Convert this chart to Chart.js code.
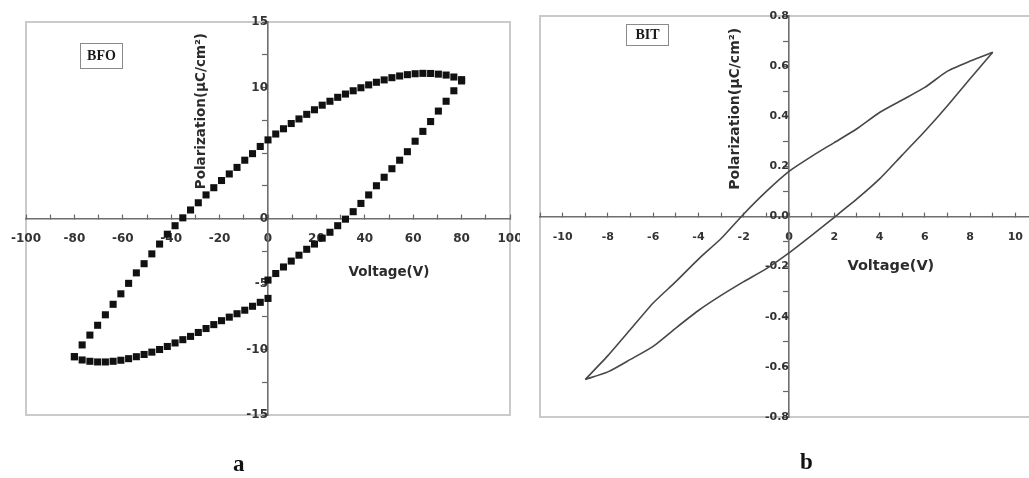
<!DOCTYPE html>
<html><head><meta charset="utf-8">
<script src="https://cdn.jsdelivr.net/npm/chart.js@4.4.1/dist/chart.umd.min.js"></script>
<style>
html,body{margin:0;padding:0;background:#fff;width:1029px;height:478px;overflow:hidden;position:relative}
canvas{position:absolute;top:0}
#cA{left:0}
#cB{left:520px}
.lab{position:absolute;font-family:"Liberation Serif","Times New Roman",serif;font-weight:bold;font-size:23px;color:#111;line-height:1}
</style></head><body>
<canvas id="cA" width="520" height="478"></canvas>
<canvas id="cB" width="525" height="478"></canvas>
<div class="lab" style="left:233px;top:452px">a</div>
<div class="lab" style="left:800px;top:450px">b</div>
<script>
// ---------- Panel a : BFO ----------
const bfoVoltageForward = [-80, -76.8, -73.6, -70.4, -67.2, -64, -60.8, -57.6, -54.4, -51.2, -48, -44.8, -41.6, -38.4, -35.2, -32, -28.8, -25.6, -22.4, -19.2, -16, -12.8, -9.6, -6.4, -3.2, 0, 3.2, 6.4, 9.6, 12.8, 16, 19.2, 22.4, 25.6, 28.8, 32, 35.2, 38.4, 41.6, 44.8, 48, 51.2, 54.4, 57.6, 60.8, 64, 67.2, 70.4, 73.6, 76.8, 80];
const bfoPolForward = [-10.55, -9.65, -8.9, -8.15, -7.35, -6.55, -5.75, -4.95, -4.15, -3.45, -2.7, -1.95, -1.2, -0.55, 0.05, 0.65, 1.2, 1.8, 2.35, 2.9, 3.4, 3.9, 4.45, 4.95, 5.5, 6.0, 6.45, 6.85, 7.25, 7.6, 7.95, 8.3, 8.65, 8.95, 9.25, 9.5, 9.75, 9.98, 10.2, 10.4, 10.58, 10.75, 10.88, 10.98, 11.05, 11.08, 11.07, 11.02, 10.95, 10.8, 10.6];
const bfoVoltageReturnA = [80, 76.8, 73.6, 70.4, 67.2, 64, 60.8, 57.6, 54.4, 51.2, 48, 44.8, 41.6, 38.4, 35.2, 32, 28.8, 25.6, 22.4, 19.2, 16, 12.8, 9.6, 6.4, 3.2, 0];
const bfoPolReturnA = [10.5, 9.75, 8.95, 8.2, 7.4, 6.65, 5.9, 5.1, 4.45, 3.8, 3.15, 2.5, 1.8, 1.15, 0.52, -0.05, -0.55, -1.05, -1.5, -1.95, -2.35, -2.8, -3.25, -3.7, -4.2, -4.7];
const bfoVoltageReturnB = [0, -3.2, -6.4, -9.6, -12.8, -16, -19.2, -22.4, -25.6, -28.8, -32, -35.2, -38.4, -41.6, -44.8, -48, -51.2, -54.4, -57.6, -60.8, -64, -67.2, -70.4, -73.6, -76.8, -80];
const bfoPolReturnB = [-6.1, -6.4, -6.7, -7.0, -7.27, -7.53, -7.8, -8.1, -8.4, -8.7, -9.0, -9.25, -9.5, -9.77, -10.0, -10.2, -10.38, -10.55, -10.7, -10.82, -10.9, -10.95, -10.95, -10.9, -10.8, -10.55];

// ---------- Panel b : BIT ----------
const bitVoltageUp = [-9, -8, -7, -6, -5, -4, -3, -2, -1, 0, 1, 2, 3, 4, 5, 6, 7, 8, 9];
const bitPolUp = [-0.65, -0.555, -0.45, -0.345, -0.26, -0.17, -0.088, 0.01, 0.1, 0.18, 0.24, 0.295, 0.35, 0.415, 0.465, 0.515, 0.58, 0.62, 0.655];
const bitVoltageDown = [9, 8, 7, 6, 5, 4, 3, 2, 1, 0, -1, -2, -3, -4, -5, -6, -7, -8, -9];
const bitPolDown = [0.655, 0.55, 0.442, 0.34, 0.245, 0.15, 0.07, -0.003, -0.075, -0.145, -0.208, -0.26, -0.315, -0.375, -0.445, -0.518, -0.57, -0.62, -0.65];

const xTicksA = {min: -100, max: 100, step: 10, labelEvery: 20};
const yTicksA = {min: -15, max: 15, step: 2.5, labelEvery: 5, hidden: [5]};
const xTicksB = {min: -11, max: 11, step: 1, labelEvery: 2};
const yTicksB = {min: -0.8, max: 0.8, step: 0.1, labelEvery: 0.2};

const pts = (xs, ys) => xs.map((x, i) => ({x, y: ys[i]}));

const framePlugin = {
  id: 'frame',
  beforeDraw(chart, args, o) {
    const {ctx, chartArea: a} = chart;
    ctx.save();
    ctx.strokeStyle = '#cacaca';
    ctx.lineWidth = 2;
    ctx.strokeRect(a.left, a.top, a.right - a.left, a.bottom - a.top);
    ctx.restore();
  },
  afterDraw(chart, args, o) {
    const {ctx, chartArea: a} = chart;
    const sx = chart.scales.x, sy = chart.scales.y;
    ctx.save();
    ctx.fillStyle = '#2b2b2b';
    ctx.textAlign = 'center';
    ctx.textBaseline = 'middle';
    // y title
    ctx.save();
    ctx.font = 'bold ' + o.yTitleSize + 'px "DejaVu Sans"';
    ctx.translate(sx.getPixelForValue(0) + o.yTitleDx, sy.getPixelForValue(o.yTitleAt));
    ctx.rotate(-Math.PI / 2);
    ctx.fillText(o.yTitle, 0, 0);
    ctx.restore();
    // x title
    ctx.font = 'bold ' + o.xTitleSize + 'px "DejaVu Sans"';
    ctx.fillText(o.xTitle, sx.getPixelForValue(o.xTitleAt[0]), sy.getPixelForValue(o.xTitleAt[1]));
    // sample tag box
    const b = o.box;
    ctx.strokeStyle = '#8a8a8a';
    ctx.lineWidth = 1;
    ctx.strokeRect(a.left + b.dx + 0.5, a.top + b.dy + 0.5, b.w, b.h);
    ctx.fillStyle = '#1a1a1a';
    ctx.font = 'bold 14px "Liberation Serif"';
    ctx.fillText(o.tag, a.left + b.dx + b.w / 2 + 0.5, a.top + b.dy + b.h / 2 + 1);
    ctx.restore();
  }
};

function axes(xt, yt, fontSize, xPad, yPad) {
  const tickFont = {family: 'DejaVu Sans', size: fontSize, weight: 'bold'};
  const isLab = (v, every) => Math.abs(Math.round(v / every) * every - v) < 1e-6;
  return {
    x: {
      type: 'linear', min: xt.min, max: xt.max, position: {y: 0},
      ticks: {stepSize: xt.step, autoSkip: false, maxRotation: 0, font: tickFont, color: '#333', padding: xPad,
        callback: v => isLab(v, xt.labelEvery) ? String(Math.round(v)) : ''},
      grid: {drawOnChartArea: false, tickLength: -5, tickColor: '#666', tickWidth: 1.2},
      border: {color: '#6e6e6e', width: 1.6},
      afterFit(s) { s.height = 0; s.paddingLeft = 0; s.paddingRight = 0; }
    },
    y: {
      type: 'linear', min: yt.min, max: yt.max, position: {x: 0},
      ticks: {stepSize: yt.step, autoSkip: false, font: tickFont, color: '#333', padding: yPad,
        callback: v => {
          if (!isLab(v, yt.labelEvery)) return '';
          if (yt.hidden && yt.hidden.some(h => Math.abs(h - v) < 1e-6)) return '';
          return yt.labelEvery < 1 ? (Math.round(v * 10) / 10).toFixed(1) : String(Math.round(v));
        }},
      grid: {drawOnChartArea: false, tickLength: 5, tickColor: '#666', tickWidth: 1.2},
      border: {color: '#6e6e6e', width: 1.6},
      afterFit(s) { s.width = 0; s.paddingTop = 0; s.paddingBottom = 0; }
    }
  };
}

const marker = {showLine: false, pointStyle: 'rect', pointRadius: 5, backgroundColor: '#111', borderColor: '#111', borderWidth: 0};

new Chart(document.getElementById('cA'), {
  type: 'scatter',
  data: {datasets: [
    Object.assign({data: pts(bfoVoltageForward, bfoPolForward)}, marker),
    Object.assign({data: pts(bfoVoltageReturnA, bfoPolReturnA)}, marker),
    Object.assign({data: pts(bfoVoltageReturnB, bfoPolReturnB)}, marker)
  ]},
  options: {
    responsive: false, animation: false, events: [],
    layout: {padding: {left: 26, right: 10, top: 22, bottom: 63}},
    scales: axes(xTicksA, yTicksA, 12, 18, 4),
    plugins: {legend: {display: false}, tooltip: {enabled: false},
      frame: {yTitle: 'Polarization(\u03bcC/cm\u00b2)', yTitleSize: 13.5, yTitleDx: -67, yTitleAt: 8.2,
              xTitle: 'Voltage(V)', xTitleSize: 13.5, xTitleAt: [50, -4.1],
              tag: 'BFO', box: {dx: 54, dy: 21, w: 42, h: 25}}}
  },
  plugins: [framePlugin]
});

const lineStyle = {showLine: true, pointRadius: 0, borderColor: '#474747', borderWidth: 1.6, tension: 0.2, fill: false};

new Chart(document.getElementById('cB'), {
  type: 'scatter',
  data: {datasets: [
    Object.assign({data: pts(bitVoltageUp, bitPolUp)}, lineStyle),
    Object.assign({data: pts(bitVoltageDown, bitPolDown)}, lineStyle)
  ]},
  options: {
    responsive: false, animation: false, events: [],
    layout: {padding: {left: 20, right: 7, top: 16, bottom: 61}},
    scales: axes(xTicksB, yTicksB, 11, 19, 4),
    plugins: {legend: {display: false}, tooltip: {enabled: false},
      frame: {yTitle: 'Polarization(\u03bcC/cm\u00b2)', yTitleSize: 14, yTitleDx: -54, yTitleAt: 0.43,
              xTitle: 'Voltage(V)', xTitleSize: 14.5, xTitleAt: [4.5, -0.2],
              tag: 'BIT', box: {dx: 86, dy: 8, w: 42, h: 21}}}
  },
  plugins: [framePlugin]
});
</script>
</body></html>
